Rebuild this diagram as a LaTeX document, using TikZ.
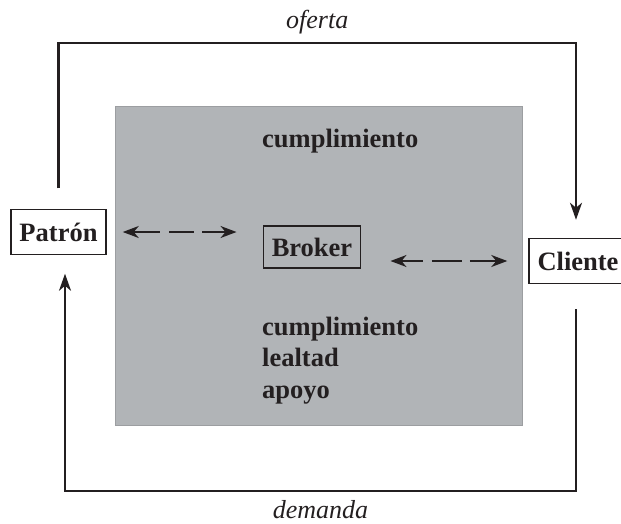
\documentclass[tikz,border=0pt]{standalone}
\usepackage{fontspec}
\setmainfont{Liberation Serif}
\usepackage{xcolor}
\usepackage{tikz}
\usetikzlibrary{arrows.meta}
\definecolor{tinta}{RGB}{35,31,32}
\definecolor{fondo}{RGB}{177,180,183}
\tikzstyle{area} = [rectangle, 
inner sep=0pt, 
fill=fondo, 
draw=fondo!88!black, 
line width=0.8pt]
\tikzstyle{actor} = [rectangle, 
minimum height=45pt, 
inner xsep=8.5pt, 
text=tinta, 
draw=tinta, 
line width=1.5pt, 
fill=white, 
font=\fontsize{26.5}{31}\selectfont\bfseries]
\tikzstyle{broker} = [actor, 
minimum height=42pt, 
fill=none]
\tikzstyle{valor} = [anchor=base west, 
inner sep=0pt, 
text=tinta, 
font=\fontsize{26.5}{31}\selectfont\bfseries]
\tikzstyle{flujo} = [anchor=base, 
inner sep=0pt, 
text=tinta, 
font=\fontsize{26}{31}\selectfont\itshape]
\tikzstyle{arrow} = [draw=tinta, line width=2.2pt, -{Stealth[length=17pt,width=12pt,inset=5pt]}]
\tikzstyle{dasharrow} = [draw=tinta, line width=1.7pt, {Stealth[length=16pt,width=12pt,inset=5pt]}-{Stealth[length=16pt,width=12pt,inset=5pt]}]

\begin{document}
\begin{tikzpicture}[x=1pt, y=-1pt]
\useasboundingbox (0,0) rectangle (621,523);

% Nodes
\node (zona) [area, minimum width=407pt, minimum height=319pt] at (318.5,265.5) {};
\node (patron) [actor] at (58.5,232) {Patrón};
\node (cliente) [actor] at (578,261) {Cliente};
\node (broker) [broker] at (312,247) {Broker};
\node (valor0) [valor] at (262,147) {cumplimiento};
\node (valor1) [valor] at (262,335) {cumplimiento};
\node (valor2) [valor] at (262,366.5) {lealtad};
\node (valor3) [valor] at (262,398) {apoyo};
\coordinate (ofertaR) at (576,43);
\coordinate (demandaL) at (65,491);

% Arrows
\draw [arrow, shorten <=20.5pt, shorten >=18pt] (patron.north) |- node[flujo, pos=0.75, yshift=15pt] {oferta} (ofertaR) -- (ofertaR |- cliente.north);
\draw [arrow, shorten <=25pt, shorten >=18.5pt] (ofertaR |- cliente.south) |- node[flujo, pos=0.75, yshift=-27pt] {demanda} (demandaL) -- (demandaL |- patron.south);
\draw [dasharrow, dash pattern=on 27pt off 9pt on 25pt off 8pt on 60pt off 0pt, shorten <=16pt, shorten >=26pt] (patron.east) -- (patron.east -| broker.west);
\draw [dasharrow, dash pattern=on 22pt off 9pt on 30pt off 8pt on 60pt off 0pt, shorten <=29pt, shorten >=21pt] (broker.east |- cliente.west) -- (cliente.west);

\end{tikzpicture}
\end{document}
